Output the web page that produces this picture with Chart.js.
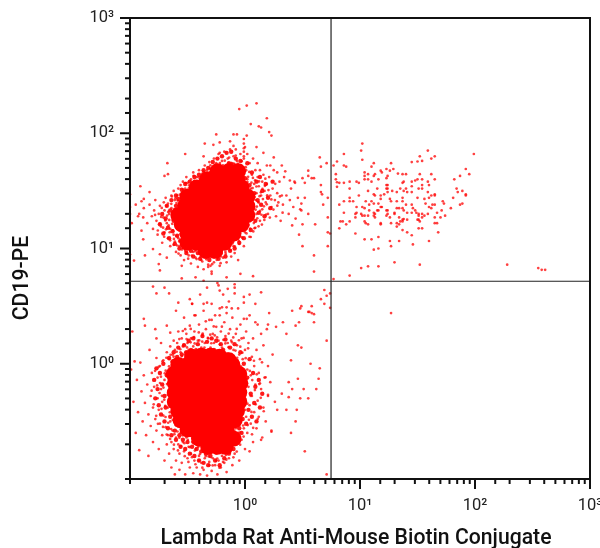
<!DOCTYPE html>
<html lang="en">
<head>
<meta charset="UTF-8">
<title>CD19-PE vs Lambda</title>
<script src="https://cdn.jsdelivr.net/npm/chart.js"></script>
<style>
    html, body { margin: 0; padding: 0; background: #fff; overflow: hidden; }
    canvas { display: block; }
</style>
</head>
<body>
<canvas id="plot" width="600" height="548"></canvas>
<script>
// all events are [log10 x, log10 y]
const upperRight = [[1.02,1.91],[1.01,1.85],[1.02,1.77],[.86,1.82],[1.59,1.85],[1.65,1.80],[1.52,1.80],[1.62,1.78],[1.54,1.76],[1.50,1.755],[1.45,1.75],[1.99,1.82],[.77,1.72],[.80,1.755],[.86,1.72],[.88,1.71],[1.10,1.71],[1.12,1.74],[1.27,1.74],[1.92,1.69],[1.95,1.645],[1.87,1.63],[1.82,1.60],
[1.23,1.69],[1.18,1.675],[1.19,1.66],[1.29,1.69],[1.26,1.675],[1.04,1.66],[1.07,1.645],[1.13,1.645],[1.12,1.63],[1.33,1.65],[1.37,1.645],[1.40,1.645],[1.52,1.645],[1.62,1.645],[.79,1.645],[.79,1.60],[.80,1.575],[.82,1.57],[.80,1.535],[.86,1.57],[.91,1.58],[.97,1.58],[.99,1.57],[1.07,1.60],[1.10,1.58],[1.16,1.60],[1.23,1.61],[1.24,1.63],[1.04,1.63],[1.04,1.60],[1.38,1.58],[1.37,1.57],[1.45,1.58],[1.48,1.59],[1.50,1.60],[1.54,1.60],[1.59,1.58],[1.65,1.60],[1.54,1.55],[1.60,1.55],[1.23,1.55],[1.24,1.55],[1.23,1.52],[1.24,1.52],[1.15,1.52],[1.07,1.50],[.91,1.52],[1.28,1.50],[1.32,1.49],[1.35,1.52],[1.38,1.50],[1.40,1.52],[1.41,1.49],[1.45,1.54],[1.45,1.49],[1.51,1.52],[1.54,1.52],[1.59,1.49],[1.84,1.52],[1.85,1.49],[1.89,1.50],[1.92,1.47],[1.92,1.46],[1.81,1.44],[1.65,1.47],[1.65,1.46],[1.62,1.46],[1.60,1.44],[1.56,1.43],[1.50,1.44],[1.24,1.49],[1.21,1.47],[1.18,1.46],[1.12,1.47],[1.13,1.46],[.99,1.46],[.91,1.44],[.91,1.41],[.94,1.41],[.86,1.41],[.82,1.38],[1.05,1.41],[1.08,1.38],[1.10,1.41],[1.12,1.39],[1.16,1.39],[1.18,1.43],[1.26,1.43],[1.27,1.41],[1.32,1.41],[1.37,1.44],[1.37,1.41],[1.40,1.38],[1.37,1.35],[1.45,1.38],[1.46,1.35],[1.48,1.33],[1.57,1.39],[1.60,1.36],[1.62,1.35],[1.63,1.38],[1.65,1.38],[1.72,1.41],[1.73,1.39],[1.71,1.33],[1.79,1.35],[1.87,1.38],[1.89,1.39],[1.74,1.285],[1.70,1.27],[1.67,1.31],[1.65,1.27],
[.97,1.36],[1.02,1.36],[1.04,1.35],[.97,1.31],[.96,1.30],[.86,1.31],[1.01,1.30],[1.02,1.285],[1.04,1.285],[1.07,1.285],[1.08,1.33],[1.12,1.31],[1.13,1.30],[1.15,1.33],[1.16,1.33],[1.18,1.36],[1.19,1.36],[1.23,1.33],[1.24,1.33],[1.24,1.30],[1.23,1.285],[1.26,1.27],[1.30,1.31],[1.30,1.30],[1.32,1.35],[1.34,1.35],[1.38,1.33],[1.41,1.31],[1.45,1.31],[1.49,1.31],[1.51,1.30],[1.51,1.285],[1.54,1.30],[1.54,1.27],[1.56,1.285],[1.59,1.30],[1.12,1.285],[1.13,1.27],[1.18,1.22],[1.18,1.21],[1.04,1.235],[1.05,1.22],[1.07,1.21],[.96,1.27],[.91,1.235],[.88,1.21],[.83,1.235],[.85,1.235],[.82,1.175],[1.27,1.22],[1.32,1.22],[1.34,1.27],[1.35,1.235],[1.37,1.25],[1.38,1.255],[1.37,1.235],[1.34,1.21],[1.32,1.19],[1.41,1.25],[1.50,1.25],[1.51,1.25],[1.52,1.235],[1.51,1.175],[1.54,1.175],[1.65,1.22],[1.67,1.22],[1.68,1.14],[1.37,1.16],[1.41,1.14],[1.45,1.115],[.96,1.13],[1.04,1.08],[1.10,1.08],[1.16,1.10],[1.26,1.065],[1.34,1.065],[1.46,1.035],[1.60,1.065],[1.27,1.02],[1.16,1.00],[1.12,.99],[1.30,.88],[1.52,.86],[1.16,.845],[1.07,.845],[1.01,.83],[.91,.765],[.77,.735],
[2.28,.86],[2.55,.83],[2.58,.815],[2.61,.815]];

const lowerRight = [[1.27,.44]];

const nearGate = [[.65,1.79],[.66,1.71],[.71,1.74],[.55,1.675],[.55,1.63],[.50,1.61],[.58,1.61],[.60,1.61],[.52,1.57],[.66,1.55],[.66,1.49],[.67,1.47],[.72,1.44],[.52,1.44],[.49,1.39],[.68,1.38],[.49,1.33],[.55,1.30],[.72,1.27],[.61,1.21],[.50,1.21],[.72,1.14],[.74,1.13],[.50,1.02],[.72,1.02],[.60,.94],[.60,.80],
[.69,.64],[.74,.61],[.66,.56],[.71,.59],[.69,.52],[.74,.485],[.49,.50],[.58,.50],[.55,.45],[.58,.44],[.60,.36]];

const upperBlobEdge = [[-.05,2.21],[.015,2.24],[.10,2.26],[.19,2.13],[.05,2.08],[.12,2.06],[.14,2.05],[-.25,1.99],[-.10,1.99],[-.07,1.99],[.015,1.98],[.21,2.01],[.23,1.98],[-.22,1.92],[-.35,1.91],[-.275,1.90],[-.13,1.93],[-.52,1.82],[-.675,1.74],[-.36,1.80],[-.22,1.83],[-.10,1.89],[.10,1.88],[.16,1.83],[.25,1.79],[.32,1.72],[.35,1.67],[.28,1.66],[.22,1.72],[.39,1.59],[.435,1.57],
[-.01,1.95],[-.01,1.91],[-.01,1.87],[-.01,1.84],[-.01,1.80],
[-.91,1.54],[-.67,1.645],[-.70,1.63],[-.83,1.49],[-.88,1.43],[-.90,1.41],[-.95,1.38],[-1.0,1.47],[-1.0,1.36],[-1.0,1.30],[-.985,1.22],[-1,.95],[-.965,.895],[-.93,1.28],[-.885,1.27],[-.90,1.155],[-.885,1.08],[-.80,.995],[-.87,.94],[-.74,.95],[-.68,.92],[-.75,.865],
[-.92,1.30],[-.88,1.35],[-.85,1.22],[-.83,1.38],[-.81,1.28],[-.80,1.17],[-.79,1.33],[-.78,1.42],[-.77,1.24],[-.76,1.12],[-.75,1.30],[-.74,1.37],[-.73,1.19],[-.72,1.05],[-.71,1.27],[-.70,1.33],[-.70,1.14],[-.69,1.44],[-.68,1.22],[-.67,1.09],[-.67,1.39],[-.66,1.30],[-.65,1.17],[-.65,1.02],[-.64,1.46],[-.64,1.35],[-.63,1.25],[-.62,1.12],[-.62,1.50],[-.61,1.42],[-.61,1.06],[-.60,.97],[-.60,1.18],[-.59,1.46],[-.58,1.52],[-.58,1.09],[-.57,1.02],[-.56,.94],[-.56,1.55],[-.55,1.13],[-.55,1.48],[-.54,1.58],[-.54,1.05],[-.53,.90],[-.52,.98],[-.52,1.52],[-.51,1.62],[-.50,1.05],[-.50,1.57],[-.49,.94],[-.48,1.01],[-.47,1.60],[-.47,.87],[-.46,1.52],[-.45,.97],[-.45,1.66],[-.44,1.56],[-.43,.92],[-.43,1.02],[-.42,1.62],[-.41,.84],[-.40,.97],[-.40,1.68],[-.39,1.58],[-.38,.90],[-.38,1.00],[-.37,1.65],[-.36,.96],[-.36,.82],[-.35,1.72],[-.34,1.62],[-.33,.92],[-.33,1.68],[-.32,.86],[-.31,.99],[-.31,1.75],[-.30,1.66],[-.29,.94],[-.29,.80],[-.28,1.70],[-.27,.88],[-.27,1.78],[-.26,.98],[-.25,1.66],[-.25,1.74],[-.24,.92],[-.23,1.82],[-.22,1.70],[-.22,.85],[-.21,.99],[-.20,1.76],[-.19,.92],[-.19,1.66],[-.18,1.84],[-.17,.97],[-.17,1.72],[-.16,.88],[-.15,1.78],[-.14,1.00],[-.14,1.68],[-.13,1.86],[-.12,.93],[-.12,1.74],[-.11,1.64],[-.10,1.80],[-.10,1.02],[-.09,.96],[-.09,1.70],[-.08,1.08],[-.08,1.86],[-.07,1.62],[-.07,1.76],[-.06,.90],[-.06,1.14],[-.05,1.68],[-.05,1.04],[-.04,1.82],[-.04,1.58],[-.03,1.10],[-.03,1.72],[-.02,1.20],[-.02,1.64],[-.01,1.78],[-.01,1.02],[0,1.88],[0,1.54],[0,1.14],[.01,1.68],[.01,1.26],[.02,1.60],[.02,1.82],[.03,1.20],[.03,1.40],[.04,1.74],[.04,1.32],[.05,1.52],[.05,1.10],[.06,1.64],[.06,1.44],[.07,1.26],[.07,1.78],[.08,1.56],[.08,1.36],[.09,1.68],[.09,1.18],[.10,1.48],[.10,1.30],[.11,1.62],[.11,1.74],[.12,1.40],[.12,1.54],[.13,1.24],[.13,1.68],[.14,1.46],[.15,1.58],[.15,1.34],[.16,1.64],[.17,1.50],[.18,1.40],[.19,1.56],[.19,1.72],[.20,1.30],[.21,1.62],[.22,1.46],[.23,1.36],[.24,1.52],[.25,1.68],[.26,1.42],[.27,1.28],[.28,1.48],[.29,1.40],[.30,1.58],[.31,1.24],[.32,1.46],[.33,1.38],[.34,1.62],[.36,1.46],[.38,1.30],[.39,1.42],[.40,1.52],[.41,1.20],[.42,1.36],[.43,1.58],[.44,1.26],[.46,1.44],[.47,1.12],[.48,1.34],
[-.55,.74],[-.43,.75],[-.36,.72],[-.29,.78],[-.16,.75],[-.04,.78],[.07,.76],[-.30,.85],[-.32,.84],[-.74,.81],[-.55,.85]];

// busy rim right around the upper cluster
const upperBlobRim = [[-.693,1.243],[-.668,1.317],[-.712,1.181],[-.655,1.141],[-.677,1.286],[-.641,1.388],[-.724,1.352],[-.633,1.214],[-.618,1.083],[-.604,1.437],[-.651,1.071],[-.589,1.026],[-.596,1.394],[-.567,1.468],[-.572,1.061],[-.548,.992],[-.539,1.512],[-.526,1.034],[-.514,1.441],[-.507,.971],[-.498,1.496],[-.487,1.548],[-.476,.998],[-.463,.939],[-.452,1.507],[-.441,1.587],[-.433,.976],[-.421,.908],[-.414,1.541],[-.402,1.618],[-.397,.958],[-.384,1.566],[-.371,.887],[-.366,.941],[-.353,1.639],[-.342,1.589],[-.336,.906],[-.325,.968],[-.317,1.612],[-.305,1.693],[-.298,.923],[-.286,.864],[-.279,1.642],[-.268,.951],[-.254,1.708],[-.246,.902],[-.238,1.672],[-.227,.976],[-.218,1.741],[-.209,.931],[-.196,1.693],[-.187,1.004],[-.176,1.762],[-.168,.953],[-.157,1.716],[-.146,1.038],[-.138,1.789],[-.127,.986],[-.116,1.742],[-.107,1.071],[-.098,1.694],[-.089,1.018],[-.081,1.806],[-.072,1.117],[-.063,1.734],[-.054,1.066],[-.046,1.667],[-.037,1.158],[-.029,1.758],[-.021,1.092],[-.012,1.623],[-.004,1.194],[.006,1.706],[.013,1.131],[.021,1.577],[.029,1.242],[.037,1.664],[.045,1.173],[.053,1.498],[.061,1.286],[.069,1.612],[.077,1.221],[.084,1.446],[.092,1.337],[.099,1.538],[.107,1.262],[.114,1.403],[.122,1.582],[.131,1.326],[.138,1.487],[.147,1.208],[.156,1.429],[.164,1.366],[.173,1.544],[.184,1.294],[.193,1.461],
[-.741,1.214],[-.703,1.102],[-.682,1.369],[-.664,1.201],[-.627,1.158],[-.615,1.342],[-.597,1.109],[-.583,1.416],[-.561,1.122],[-.553,1.445],[-.531,1.084],[-.523,1.473],[-.502,1.012],[-.489,1.521],[-.468,1.043],[-.457,1.559],[-.438,1.008],[-.426,1.574],[-.409,.994],[-.391,1.602],[-.378,1.021],[-.359,1.613],[-.346,.984],[-.329,1.651],[-.311,1.012],[-.293,1.664],[-.274,.992],[-.259,1.682],[-.241,1.021],[-.223,1.704],[-.203,1.034],[-.184,1.683],[-.171,1.062],[-.152,1.668],[-.134,1.081],[-.119,1.691],[-.094,1.122],[-.076,1.682],[-.058,1.158],[-.041,1.624],[-.019,1.183],[-.008,1.583],[.003,1.251],[.011,1.532],[.018,1.304],[.024,1.466],[.033,1.354],[.041,1.423],[.049,1.392],[.058,1.262],[.066,1.524],[.074,1.341],[.083,1.176],[.094,1.421],
[-.782,1.291],[-.758,1.156],[-.729,1.274],[-.706,1.401],[-.687,1.166],[-.659,1.248],[-.636,1.451],[-.621,1.032],[-.578,.956],[-.543,1.061],[-.518,1.568],[-.494,.912],[-.472,1.478],[-.447,1.631],[-.418,1.052],[-.388,.926],[-.362,1.667],[-.332,1.038],[-.301,1.722],[-.263,1.041],[-.232,1.668],[-.212,.873],[-.192,1.721],[-.161,1.019],[-.142,1.741],[-.111,1.043],[-.086,1.651],[-.067,1.094],[-.052,1.702],[-.033,1.212],[-.016,1.687],[.008,1.168],[.027,1.622],[.039,1.102],[.056,1.571],[.072,1.148],[.088,1.592],[.103,1.364],[.118,1.192],[.127,1.454],[.143,1.293],[.152,1.517],[.168,1.248],[.177,1.606],[.189,1.383],[.204,1.507],[.216,1.268],[.229,1.426],[.247,1.338],[.263,1.561],[.281,1.372],[.304,1.452],[.327,1.311]];

const lowerBlobEdge = [[-.99,-.05],[-.97,-.33],[-.96,.02],[-.95,-.60],[-.94,-.14],[-.93,-.42],[-.92,-.75],[-.91,.01],[-.90,-.24],[-.89,-.50],[-.88,-.10],[-.87,-.34],[-.86,-.62],[-.85,-.18],[-.84,-.44],[-.84,-.80],[-.83,.12],[-.82,-.28],[-.82,-.54],[-.81,-.08],[-.80,-.38],[-.80,-.68],[-.79,-.20],[-.78,-.48],[-.78,.30],[-.77,-.58],[-.77,.05],[-.76,-.30],[-.76,-.12],[-.75,-.40],[-.75,-.74],[-.74,-.52],[-.74,-.02],[-.73,-.22],[-.73,.18],[-.72,-.62],[-.72,-.33],[-.71,.03],[-.71,-.45],[-.70,-.14],[-.70,-.84],[-.69,-.55],[-.69,-.06],[-.68,-.70],[-.68,.10],[-.67,-.38],[-.67,-.62],[-.66,.04],[-.66,-.78],[-.65,-.50],[-.65,.15],[-.64,-.90],[-.64,-.68],[-.63,.08],[-.63,-.58],[-.62,.20],[-.62,-.74],[-.61,-.96],[-.61,.12],[-.60,-.64],[-.60,-.84],[-.59,.18],[-.58,-.70],[-.58,.28],[-.57,-.92],[-.57,-.78],[-.56,.10],[-.56,-.60],[-.55,.22],[-.55,-.86],[-.54,-.68],[-.54,.15],[-.53,.40],[-.53,-.76],[-.52,-.96],[-.52,.08],[-.51,.26],[-.51,-.64],[-.50,-.82],[-.50,.18],[-.49,.12],[-.49,-.72],[-.48,.33],[-.48,-.90],[-.47,.22],[-.47,-.78],[-.46,.52],[-.46,-.68],[-.45,.15],[-.45,-.95],[-.44,.28],[-.44,-.84],[-.43,.42],[-.43,-.74],[-.42,.12],[-.42,-.90],[-.41,.20],[-.41,-.70],[-.40,.34],[-.40,-.80],[-.39,.60],[-.39,-.96],[-.38,.14],[-.38,-.86],[-.37,.25],[-.37,-.74],[-.36,.46],[-.36,-.92],[-.35,.18],[-.35,-.82],[-.34,.30],[-.34,-.70],[-.33,.66],[-.33,-.97],[-.32,.22],[-.32,-.78],[-.31,.38],[-.31,-.88],[-.30,.14],[-.30,-.74],[-.29,.52],[-.29,-.93],[-.28,.26],[-.28,-.82],[-.27,.18],[-.27,-.72],[-.26,.42],[-.26,-.88],[-.25,.32],[-.25,-.78],[-.24,.70],[-.24,-.96],[-.23,.20],[-.23,-.84],[-.22,.48],[-.22,-.74],[-.21,.28],[-.21,-.90],[-.20,.14],[-.20,-.80],[-.19,.60],[-.19,-.70],[-.18,.36],[-.18,-.86],[-.17,.24],[-.17,-.76],[-.16,.44],[-.16,-.94],[-.15,.18],[-.15,-.68],[-.14,.54],[-.14,-.82],[-.13,.30],[-.13,-.62],[-.12,.20],[-.12,-.74],[-.11,.40],[-.11,-.88],[-.10,.12],[-.10,-.66],[-.09,.66],[-.09,-.78],[-.08,.26],[-.08,-.56],[-.07,.16],[-.07,-.70],[-.06,.48],[-.06,-.60],[-.05,.08],[-.05,-.84],[-.04,.34],[-.04,-.50],[-.03,.22],[-.03,-.66],[-.02,.04],[-.02,-.42],[-.01,.58],[-.01,-.56],[0,.12],[0,-.30],[0,-.74],[.01,.28],[.01,-.46],[.02,-.05],[.02,-.60],[.03,.18],[.03,-.20],[.04,-.36],[.04,.42],[.05,-.10],[.05,-.52],[.06,.06],[.06,-.28],[.07,-.68],[.07,.22],[.08,-.42],[.08,-.02],[.09,-.18],[.09,.52],[.10,-.56],[.10,.12],[.11,-.32],[.11,.34],[.12,-.08],[.12,-.46],[.13,.04],[.14,-.22],[.14,.26],[.15,-.64],[.16,-.38],[.16,.16],[.17,-.12],[.18,-.50],[.19,.30],[.20,-.02],[.20,-.28],[.21,.44],[.22,-.16],[.23,-.58],[.24,.08],
[.20,.34],[.27,.32],[.33,.36],[.41,.46],[.48,.48],[.56,.45],[.60,.43],[.47,.36],[.44,.33],[.36,.26],[.46,.16],[.49,.14],[.40,.03],[.57,0],[.65,-.04],[.64,-.13],[.62,-.22],[.51,-.22],[.46,-.13],[.38,-.16],[.41,-.22],[.38,-.29],[.32,-.26],[.26,-.33],[.20,-.27],[.13,-.17],[.28,-.40],[.36,-.40],[.45,-.40],[.48,-.30],[.55,-.30],[.44,-.50],[.40,-.60],[.23,-.59],[.14,-.66],[.52,-.76],[.04,-.76],[.71,-.96],[.71,.20],
[-.80,.67],[-.77,.61],[-.70,.66],[-.66,.61],[-.58,.53],[-.48,.56],[-.46,.52],[-.36,.52],[-.33,.53],[-.23,.68],[-.22,.635],[-.15,.65],[-.09,.61],[-.09,.69],[.04,.60],[.14,.62],[-.01,.53],[-.16,.49],[-.2,.49],[-.115,.48],[-.88,.39],[-.87,.33],[-.98,.28],[-.77,.22],[-.68,.33],[-.65,.27],[-.52,.30],[-.60,.46],[-.44,.42],[-.29,.38],[-.22,.42],[-.01,.39],[.015,.39],[.09,.36]];

// busy rim right around the lower cluster
const lowerBlobRim = [[-.782,-.061],[-.764,-.188],[-.751,-.027],[-.743,-.254],[-.731,-.112],[-.726,-.391],[-.718,.021],[-.709,-.207],[-.702,-.312],[-.697,-.083],[-.691,-.462],[-.684,.052],[-.678,-.176],[-.672,-.268],[-.668,-.512],[-.661,-.023],[-.654,-.421],[-.647,.078],[-.642,-.566],[-.636,.016],[-.628,-.487],[-.621,.061],[-.614,-.611],[-.608,.009],[-.601,-.534],[-.594,.104],[-.587,-.588],[-.579,.041],[-.571,-.642],[-.563,.126],[-.556,-.552],[-.549,.067],[-.541,-.621],[-.534,.164],[-.527,-.689],[-.519,.098],[-.512,-.596],[-.504,.142],[-.497,-.661],[-.488,.062],[-.481,-.724],[-.473,.186],[-.466,-.618],[-.458,.094],[-.451,-.688],[-.443,.231],[-.436,-.753],[-.428,.128],[-.421,-.664],[-.413,.074],[-.406,-.721],[-.398,.202],[-.391,-.782],[-.383,.112],[-.376,-.692],[-.368,.262],[-.361,-.758],[-.353,.141],[-.346,-.669],[-.338,.089],[-.331,-.736],[-.323,.224],[-.316,-.804],[-.308,.124],[-.301,-.698],[-.293,.178],[-.286,-.768],[-.278,.082],[-.271,-.667],[-.263,.246],[-.256,-.739],[-.248,.111],[-.241,-.822],[-.233,.064],[-.226,-.706],[-.218,.168],[-.211,-.764],[-.203,.041],[-.196,-.654],[-.188,.208],[-.181,-.724],[-.173,.092],[-.166,-.791],[-.158,.022],[-.151,-.638],[-.143,.144],[-.136,-.706],[-.128,.006],[-.121,-.612],[-.113,.186],[-.106,-.682],[-.098,-.012],[-.091,-.586],[-.083,.114],[-.076,-.634],[-.068,.052],[-.061,-.534],[-.053,.204],[-.046,-.598],[-.038,-.021],[-.031,-.476],[-.023,.096],[-.016,-.536],[-.008,-.064],[-.001,-.401],[.006,.048],[.014,-.132],[.021,-.346],[.027,.134],[.034,-.486],[.042,-.062],[.049,-.278],[.056,-.418],[.063,-.142],[.071,-.556],[.078,.026],[.086,-.228],[.093,-.352],[.102,-.092],[.111,-.478],[.124,-.176],[.137,-.296],[.148,.012],[.163,-.412],[.179,-.118],
[-.812,-.234],[-.794,-.352],[-.772,-.452],[-.757,-.521],[-.739,-.167],[-.722,-.278],[-.713,-.548],[-.694,-.366],[-.681,-.614],[-.663,-.133],[-.651,-.652],[-.631,-.312],[-.618,-.702],[-.583,-.752],[-.558,-.714],[-.524,-.802],[-.492,-.852],[-.461,-.811],[-.431,-.872],[-.401,-.842],[-.371,-.902],[-.341,-.802],[-.311,-.852],[-.281,-.882],[-.251,-.842],[-.222,-.902],[-.191,-.852],[-.162,-.832],[-.131,-.772],[-.101,-.812],[-.072,-.762],[-.042,-.702],[-.012,-.632],[.024,-.532],[.061,-.612],[-.571,.214],[-.541,.284],[-.508,.214],[-.472,.302],[-.438,.176],[-.402,.272],[-.372,.192],[-.341,.368],[-.302,.252],[-.272,.324],[-.242,.228],[-.201,.322],[-.171,.176],[-.142,.262],[-.102,.228],[-.072,.302],[-.041,.148],[-.012,.224]];

// overlapping events at the edge of each solid area, drawn as one heavier mark
const upperClumps = [[-.74,1.21],[-.72,1.30],[-.71,1.13],[-.69,1.26],[-.68,1.37],[-.67,1.18],[-.66,1.09],[-.65,1.33],[-.64,1.42],[-.63,1.15],[-.62,1.24],[-.61,1.04],[-.60,1.37],[-.60,1.46],[-.59,1.11],[-.58,1.43],[-.57,1.00],[-.56,1.07],[-.55,1.51],[-.54,1.40],[-.53,1.02],[-.52,1.56],[-.51,.96],[-.50,1.47],[-.49,1.05],[-.48,1.58],[-.47,.98],[-.46,1.54],[-.45,.93],[-.44,1.62],[-.43,1.00],[-.42,1.50],[-.41,.96],[-.40,1.64],[-.39,.91],[-.38,1.55],[-.37,.98],[-.36,1.68],[-.35,.93],[-.34,1.58],[-.33,1.00],[-.32,1.70],[-.31,.90],[-.30,1.62],[-.29,.97],[-.28,1.75],[-.27,.93],[-.26,1.65],[-.25,.98],[-.24,1.78],[-.23,.91],[-.22,1.68],[-.21,.96],[-.20,1.80],[-.19,1.01],[-.18,1.70],[-.17,.93],[-.16,1.83],[-.15,1.03],[-.14,1.74],[-.13,.98],[-.12,1.84],[-.11,1.06],[-.10,1.73],[-.09,1.00],[-.08,1.78],[-.07,1.12],[-.06,1.68],[-.05,1.05],[-.04,1.76],[-.03,1.16],[-.02,1.70],[-.01,1.09],[0,1.61],[.01,1.20],[.02,1.74],[.03,1.28],[.04,1.55],[.05,1.16],[.06,1.66],[.07,1.36],[.08,1.48],[.09,1.24],[.10,1.58],[.11,1.42],[.12,1.31],[.13,1.62],[.14,1.38],[.15,1.50],[.17,1.28],[.18,1.56],[.20,1.44],[.22,1.35],[.24,1.58]];
const lowerClumps = [[-.79,-.14],[-.78,-.30],[-.77,-.04],[-.76,-.22],[-.75,-.36],[-.74,-.08],[-.73,-.44],[-.72,-.18],[-.71,.00],[-.70,-.28],[-.70,-.50],[-.69,-.38],[-.68,-.10],[-.67,-.56],[-.66,.05],[-.65,-.46],[-.64,-.62],[-.63,.02],[-.62,.10],[-.61,-.58],[-.60,-.66],[-.59,.06],[-.58,.14],[-.57,-.62],[-.56,-.72],[-.55,.08],[-.54,-.66],[-.53,.16],[-.52,-.74],[-.51,.10],[-.50,-.68],[-.49,.20],[-.48,-.78],[-.47,.12],[-.46,-.72],[-.45,.22],[-.44,-.80],[-.43,.08],[-.42,-.74],[-.41,.17],[-.40,-.84],[-.39,.10],[-.38,-.76],[-.37,.24],[-.36,-.86],[-.35,.11],[-.34,-.78],[-.33,.19],[-.32,-.88],[-.31,.08],[-.30,-.80],[-.29,.22],[-.28,-.72],[-.27,.12],[-.26,-.84],[-.25,.20],[-.24,-.76],[-.23,.09],[-.22,-.88],[-.21,.17],[-.20,-.74],[-.19,.12],[-.18,-.82],[-.17,.21],[-.16,-.72],[-.15,.08],[-.14,-.78],[-.13,.14],[-.12,-.66],[-.11,.04],[-.10,-.74],[-.09,.17],[-.08,-.62],[-.07,.02],[-.06,-.68],[-.05,-.56],[-.04,.10],[-.03,-.60],[-.02,-.48],[-.01,.00],[.01,-.52],[.02,-.12],[.03,-.40],[.04,.04],[.05,-.26],[.06,-.46],[.07,-.08],[.08,-.34],[.09,-.20],[.10,-.50],[.12,-.14],[.13,-.38],[.15,-.26]];

// solid middles of the two clusters
const upperBlobCore = [[-.34,.98],[-.26,.98],[-.50,1.05],[-.42,1.05],[-.34,1.05],[-.26,1.05],[-.18,1.05],[-.50,1.13],[-.42,1.13],[-.34,1.13],[-.26,1.13],[-.18,1.13],[-.10,1.13],[-.55,1.21],[-.47,1.21],[-.39,1.21],[-.31,1.21],[-.23,1.21],[-.15,1.21],[-.09,1.21],[-.03,1.21],[-.58,1.29],[-.50,1.29],[-.42,1.29],[-.34,1.29],[-.26,1.29],[-.18,1.29],[-.10,1.29],[-.05,1.29],[.02,1.29],[-.52,1.37],[-.44,1.37],[-.36,1.37],[-.28,1.37],[-.20,1.37],[-.12,1.37],[-.05,1.37],[.02,1.37],[-.50,1.45],[-.42,1.45],[-.34,1.45],[-.26,1.45],[-.18,1.45],[-.10,1.45],[-.03,1.45],[.02,1.45],[-.42,1.53],[-.33,1.53],[-.25,1.53],[-.17,1.53],[-.09,1.53],[-.03,1.53],[-.33,1.60],[-.22,1.60],[-.14,1.60],[-.07,1.60],[-.24,1.67],[-.14,1.67],[-.06,1.67]];
const lowerBlobCore = [[-.46,.06],[-.38,.07],[-.30,.07],[-.22,.06],[-.14,.03],[-.58,-.01],[-.50,-.01],[-.42,-.01],[-.34,-.01],[-.26,-.01],[-.18,-.01],[-.11,-.01],[-.62,-.09],[-.54,-.09],[-.46,-.09],[-.38,-.09],[-.30,-.09],[-.22,-.09],[-.14,-.09],[-.09,-.09],[-.05,-.09],[-.61,-.17],[-.53,-.17],[-.45,-.17],[-.37,-.17],[-.29,-.17],[-.21,-.17],[-.13,-.17],[-.08,-.17],[-.04,-.17],[-.61,-.25],[-.53,-.25],[-.45,-.25],[-.37,-.25],[-.29,-.25],[-.21,-.25],[-.13,-.25],[-.09,-.25],[-.05,-.25],[-.61,-.33],[-.53,-.33],[-.45,-.33],[-.37,-.33],[-.29,-.33],[-.21,-.33],[-.13,-.33],[-.10,-.33],[-.05,-.33],[-.58,-.41],[-.50,-.41],[-.42,-.41],[-.34,-.41],[-.26,-.41],[-.18,-.41],[-.13,-.41],[-.07,-.41],[-.56,-.49],[-.48,-.49],[-.40,-.49],[-.32,-.49],[-.24,-.49],[-.16,-.49],[-.09,-.49],[-.50,-.57],[-.46,-.57],[-.38,-.57],[-.30,-.57],[-.22,-.57],[-.16,-.57],[-.40,-.65],[-.32,-.65],[-.24,-.65],[-.16,-.65],[-.10,-.65],[-.32,-.72],[-.24,-.72],[-.17,-.72]];

const gateX = 5.6;
const gateY = 5.2;
const axisMin = 0.1;
const axisMax = 1000;
const decadeLabels = { 1: '10⁰', 10: '10¹', 100: '10²', 1000: '10³' };
const xTitle = 'Lambda Rat Anti-Mouse Biotin Conjugate';
const yTitle = 'CD19-PE';

const toEvents = list => list.map(p => ({ x: 10 ** p[0], y: 10 ** p[1] }));
const marks = (list, radius, color, order) => ({
    data: toEvents(list),
    pointRadius: radius,
    pointBorderWidth: 0,
    pointBackgroundColor: color,
    order: order
});
const dots = list => marks(list, 1.35, 'rgba(255,0,0,0.75)', 2);
const clumps = list => marks(list, 2.2, 'rgba(255,0,0,0.9)', 3);
const core = list => marks(list, 8, '#ff0000', 4);
const gate = pts => ({
    data: pts,
    showLine: true,
    pointRadius: 0,
    borderWidth: 1.2,
    borderColor: '#222',
    order: 1
});

// frame, long/short log ticks and the two axis titles
const frameTicks = {
    id: 'frameTicks',
    afterDatasetsDraw(chart) {
        const { ctx, chartArea: a, scales } = chart;
        ctx.save();
        ctx.strokeStyle = '#111';
        ctx.lineWidth = 2;
        ctx.strokeRect(a.left, a.top, a.right - a.left, a.bottom - a.top);
        scales.x.ticks.forEach(t => {
            const px = scales.x.getPixelForValue(t.value);
            const len = t.label ? 10 : 5;
            ctx.beginPath();
            ctx.moveTo(px, a.bottom);
            ctx.lineTo(px, a.bottom + len);
            ctx.stroke();
        });
        scales.y.ticks.forEach(t => {
            const py = scales.y.getPixelForValue(t.value);
            const len = t.label ? 10 : 5;
            ctx.beginPath();
            ctx.moveTo(a.left, py);
            ctx.lineTo(a.left - len, py);
            ctx.stroke();
        });
        ctx.fillStyle = '#111';
        ctx.font = '500 21.2px Roboto';
        ctx.textAlign = 'center';
        ctx.textBaseline = 'middle';
        ctx.fillText(xTitle, 356, 539);
        ctx.translate(23, 278);
        ctx.rotate(-Math.PI / 2);
        ctx.fillText(yTitle, 0, 0);
        ctx.restore();
    }
};

new Chart(document.getElementById('plot'), {
    type: 'scatter',
    data: {
        datasets: [
            core(upperBlobCore),
            core(lowerBlobCore),
            clumps(upperClumps),
            clumps(lowerClumps),
            dots(upperBlobEdge),
            dots(upperBlobRim),
            dots(lowerBlobEdge),
            dots(lowerBlobRim),
            dots(nearGate),
            dots(upperRight),
            dots(lowerRight),
            gate([{ x: gateX, y: axisMin }, { x: gateX, y: axisMax }]),
            gate([{ x: axisMin, y: gateY }, { x: axisMax, y: gateY }])
        ]
    },
    options: {
        responsive: false,
        animation: false,
        layout: { padding: { top: 18, right: 10, left: 0, bottom: 0 } },
        plugins: { legend: { display: false }, tooltip: { enabled: false } },
        scales: {
            x: {
                type: 'logarithmic',
                min: axisMin,
                max: axisMax,
                afterFit: s => { s.height = 69; s.paddingLeft = 0; s.paddingRight = 0; },
                grid: { display: false },
                border: { display: false },
                ticks: {
                    autoSkip: false,
                    maxRotation: 0,
                    padding: 9,
                    color: '#222',
                    font: { family: 'Roboto', size: 16.5 },
                    callback: v => decadeLabels[v] || ''
                }
            },
            y: {
                type: 'logarithmic',
                min: axisMin,
                max: axisMax,
                afterFit: s => { s.width = 130; s.paddingTop = 0; s.paddingBottom = 0; },
                grid: { display: false },
                border: { display: false },
                ticks: {
                    autoSkip: false,
                    padding: 8,
                    color: '#222',
                    font: { family: 'Roboto', size: 16.5 },
                    callback: v => decadeLabels[v] || ''
                }
            }
        }
    },
    plugins: [frameTicks]
});
</script>
</body>
</html>
